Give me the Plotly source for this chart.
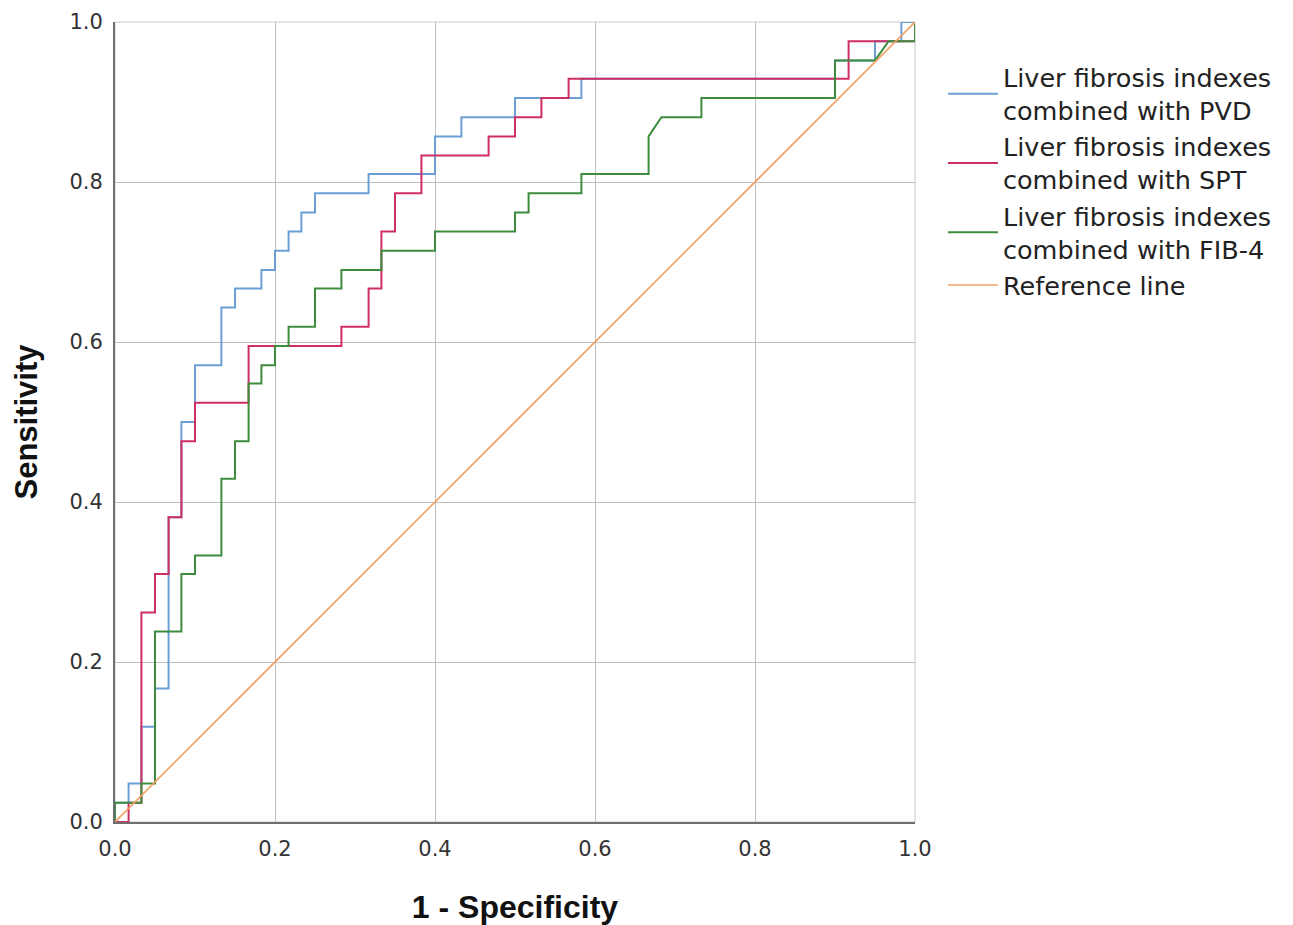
import plotly.graph_objects as go

# ROC curve vertices (1 - Specificity, Sensitivity)
pvd_fpr = [0, 0, 0.017, 0.017, 0.033, 0.033, 0.05, 0.05, 0.067, 0.067, 0.083, 0.083, 0.1, 0.1,
           0.133, 0.133, 0.15, 0.15, 0.183, 0.183, 0.2, 0.2, 0.217, 0.217, 0.233, 0.233, 0.25, 0.25,
           0.317, 0.317, 0.4, 0.4, 0.433, 0.433, 0.5, 0.5, 0.583, 0.583, 0.9, 0.9, 0.95, 0.95,
           0.983, 0.983, 1]
pvd_tpr = [0, 0.024, 0.024, 0.048, 0.048, 0.119, 0.119, 0.167, 0.167, 0.381, 0.381, 0.5, 0.5, 0.571,
           0.571, 0.643, 0.643, 0.667, 0.667, 0.69, 0.69, 0.714, 0.714, 0.738, 0.738, 0.762, 0.762, 0.786,
           0.786, 0.81, 0.81, 0.857, 0.857, 0.881, 0.881, 0.905, 0.905, 0.929, 0.929, 0.952, 0.952, 0.976,
           0.976, 1, 1]

spt_fpr = [0, 0.017, 0.017, 0.033, 0.033, 0.05, 0.05, 0.067, 0.067, 0.083, 0.083, 0.1, 0.1, 0.167,
           0.167, 0.283, 0.283, 0.317, 0.317, 0.333, 0.333, 0.35, 0.35, 0.383, 0.383, 0.467, 0.467,
           0.5, 0.5, 0.533, 0.533, 0.567, 0.567, 0.917, 0.917, 1, 1]
spt_tpr = [0, 0, 0.024, 0.024, 0.262, 0.262, 0.31, 0.31, 0.381, 0.381, 0.476, 0.476, 0.524, 0.524,
           0.595, 0.595, 0.619, 0.619, 0.667, 0.667, 0.738, 0.738, 0.786, 0.786, 0.833, 0.833, 0.857,
           0.857, 0.881, 0.881, 0.905, 0.905, 0.929, 0.929, 0.976, 0.976, 1]

fib4_fpr = [0, 0, 0.033, 0.033, 0.05, 0.05, 0.083, 0.083, 0.1, 0.1, 0.133, 0.133, 0.15, 0.15, 0.167,
            0.167, 0.183, 0.183, 0.2, 0.2, 0.217, 0.217, 0.25, 0.25, 0.283, 0.283, 0.333, 0.333, 0.4,
            0.4, 0.5, 0.5, 0.517, 0.517, 0.583, 0.583, 0.667, 0.667, 0.683, 0.733, 0.733, 0.9, 0.9,
            0.95, 0.967, 1, 1]
fib4_tpr = [0, 0.024, 0.024, 0.048, 0.048, 0.238, 0.238, 0.31, 0.31, 0.333, 0.333, 0.429, 0.429,
            0.476, 0.476, 0.548, 0.548, 0.571, 0.571, 0.595, 0.595, 0.619, 0.619, 0.667, 0.667, 0.69,
            0.69, 0.714, 0.714, 0.738, 0.738, 0.762, 0.762, 0.786, 0.786, 0.81, 0.81, 0.857, 0.881,
            0.881, 0.905, 0.905, 0.952, 0.952, 0.976, 0.976, 1]

ref_x = [0, 1]
ref_y = [0, 1]

names = ["Liver fibrosis indexes<br>combined with PVD",
         "Liver fibrosis indexes<br>combined with SPT",
         "Liver fibrosis indexes<br>combined with FIB-4",
         "Reference line"]
colors = ["#6b9fd6", "#cf2e63", "#3e8c3e", "#f2a065"]

tick_vals = [0, 0.2, 0.4, 0.6, 0.8, 1.0]
tick_text = ["0.0", "0.2", "0.4", "0.6", "0.8", "1.0"]

fig = go.Figure()
series = [(pvd_fpr, pvd_tpr), (spt_fpr, spt_tpr), (fib4_fpr, fib4_tpr), (ref_x, ref_y)]
for (xs, ys), nm, c in zip(series, names, colors):
    fig.add_trace(go.Scatter(x=xs, y=ys, mode="lines", name=nm,
                             line=dict(color=c, width=2 if nm != "Reference line" else 1.6)))

axis_common = dict(range=[0, 1], tickvals=tick_vals, ticktext=tick_text,
                   showgrid=True, gridcolor="#bdbdbd", gridwidth=1,
                   zeroline=False, showline=True, linecolor="#6e6e6e", linewidth=2,
                   mirror=False, ticks="", automargin=False,
                   tickfont=dict(family="DejaVu Sans", size=21, color="#333333"))

fig.update_xaxes(**axis_common, ticklabelstandoff=7,
                 title=dict(text="1 - Specificity", standoff=35,
                            font=dict(family="Liberation Sans", size=32, color="#111111")))
fig.update_yaxes(**axis_common, ticklabelstandoff=6,
                 title=dict(text="Sensitivity", standoff=23,
                            font=dict(family="Liberation Sans", size=31, color="#111111")))

fig.update_layout(
    width=1293, height=925,
    margin=dict(l=107, r=386, t=14, b=111),
    paper_bgcolor="white", plot_bgcolor="white",
    font=dict(family="DejaVu Sans", color="#222222"),
    legend=dict(x=1.035, y=0.96, xanchor="left", yanchor="top",
                font=dict(family="DejaVu Sans", size=25.5, color="#222222"),
                itemwidth=50, tracegroupgap=0, bgcolor="rgba(0,0,0,0)"),
    shapes=[dict(type="rect", xref="paper", yref="paper", x0=0, y0=0, x1=1, y1=1,
                 line=dict(color="#c8c8c8", width=1), layer="below")],
)
fig.update_layout(xaxis_title_font_weight="bold", yaxis_title_font_weight="bold")

fig.write_html("out.html")
